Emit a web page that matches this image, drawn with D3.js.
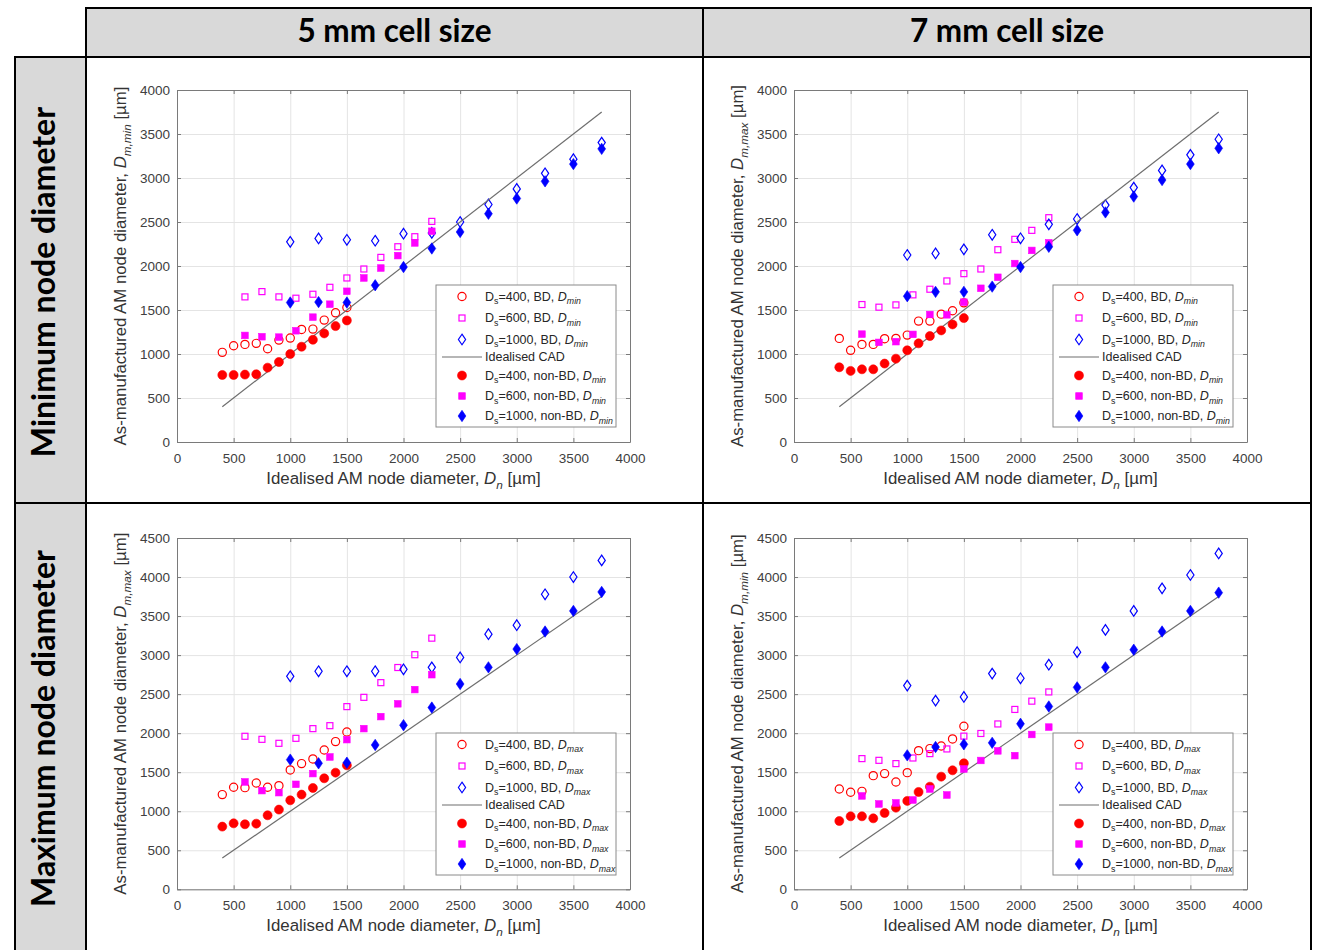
<!DOCTYPE html>
<html>
<head>
<meta charset="utf-8">
<script src="https://cdn.jsdelivr.net/npm/d3@7"></script>
<style>
  body { margin: 0; background: #fff; }
  svg { display: block; }
</style>
</head>
<body>
<svg id="fig" width="1319" height="950"></svg>
<script>
(function() {
  var svg, panels, seriesDefs, tableLeft, colX, rowY;

  // idealised node diameter (um) per strut size
  var ds400X = [400, 500, 600, 700, 800, 900, 1000, 1100, 1200, 1300, 1400, 1500];
  var ds600X = [600, 750, 900, 1050, 1200, 1350, 1500, 1650, 1800, 1950, 2100, 2250];
  var ds1000X = [1000, 1250, 1500, 1750, 2000, 2250, 2500, 2750, 3000, 3250, 3500, 3750];
  var cadX = [400, 3750];
  var cadY = [400, 3750];

  var xTicks = [0, 500, 1000, 1500, 2000, 2500, 3000, 3500, 4000];
  var yTicksTop = [0, 500, 1000, 1500, 2000, 2500, 3000, 3500, 4000];
  var yTicksBottom = [0, 500, 1000, 1500, 2000, 2500, 3000, 3500, 4000, 4500];

  var colHeaders = ["5 mm cell size", "7 mm cell size"];
  var rowHeaders = ["Minimum node diameter", "Maximum node diameter"];

  // 5 mm cell, minimum node diameter
  var min5Bd400 = [1019, 1094, 1109, 1121, 1060, 1158, 1181, 1279, 1283, 1385, 1468, 1528];
  var min5Bd600 = [1649, 1709, 1649, 1634, 1679, 1758, 1864, 1966, 2098, 2219, 2333, 2507];
  var min5Bd1000 = [2275, 2313, 2298, 2287, 2367, 2376, 2500, 2699, 2876, 3053, 3214, 3402];
  var min5Nb400 = [762, 762, 766, 770, 845, 909, 1000, 1083, 1162, 1234, 1317, 1381];
  var min5Nb600 = [1211, 1196, 1192, 1264, 1419, 1566, 1713, 1864, 1977, 2118, 2262, 2395];
  var min5Nb1000 = [1585, 1590, 1585, 1781, 1988, 2199, 2387, 2594, 2767, 2962, 3158, 3331];

  // 7 mm cell, minimum node diameter
  var min7Bd400 = [1177, 1042, 1109, 1109, 1174, 1177, 1215, 1374, 1374, 1453, 1491, 1581];
  var min7Bd600 = [1562, 1532, 1558, 1672, 1736, 1830, 1913, 1966, 2185, 2303, 2405, 2549];
  var min7Bd1000 = [2125, 2143, 2189, 2355, 2315, 2474, 2534, 2692, 2891, 3086, 3263, 3440];
  var min7Nb400 = [849, 808, 826, 826, 891, 947, 1042, 1121, 1204, 1268, 1336, 1408];
  var min7Nb600 = [1226, 1132, 1140, 1223, 1449, 1445, 1589, 1747, 1872, 2028, 2177, 2263];
  var min7Nb1000 = [1657, 1706, 1706, 1766, 1988, 2218, 2406, 2609, 2789, 2977, 3158, 3338];

  // 5 mm cell, maximum node diameter
  var max5Bd400 = [1213, 1307, 1302, 1362, 1307, 1328, 1529, 1610, 1670, 1785, 1892, 2015];
  var max5Bd600 = [1960, 1921, 1870, 1934, 2058, 2096, 2340, 2459, 2647, 2841, 3005, 3217];
  var max5Bd1000 = [2728, 2793, 2793, 2793, 2818, 2843, 2970, 3268, 3383, 3779, 4000, 4213];
  var max5Nb400 = [803, 845, 833, 841, 948, 1021, 1140, 1213, 1298, 1422, 1494, 1588];
  var max5Nb600 = [1375, 1264, 1238, 1345, 1482, 1695, 1917, 2058, 2212, 2376, 2558, 2749];
  var max5Nb1000 = [1661, 1614, 1622, 1849, 2102, 2328, 2630, 2843, 3077, 3302, 3566, 3809];

  // 7 mm cell, maximum node diameter
  var max7Bd400 = [1285, 1243, 1255, 1456, 1482, 1375, 1494, 1776, 1802, 1836, 1926, 2088];
  var max7Bd600 = [1674, 1652, 1610, 1682, 1738, 1798, 1962, 1996, 2118, 2304, 2410, 2528];
  var max7Bd1000 = [2609, 2417, 2464, 2763, 2703, 2877, 3038, 3323, 3566, 3855, 4026, 4302];
  var max7Nb400 = [875, 935, 935, 909, 978, 1046, 1132, 1247, 1315, 1443, 1524, 1614];
  var max7Nb600 = [1196, 1093, 1106, 1144, 1285, 1208, 1541, 1650, 1773, 1712, 1983, 2078];
  var max7Nb1000 = [1716, 1823, 1857, 1876, 2120, 2342, 2587, 2843, 3068, 3302, 3566, 3800];

  seriesDefs = [
    { key: "bd400", x: ds400X, ds: "400", kind: "BD", shape: "circle", filled: false, color: "#ff0000" },
    { key: "bd600", x: ds600X, ds: "600", kind: "BD", shape: "square", filled: false, color: "#ff00ff" },
    { key: "bd1000", x: ds1000X, ds: "1000", kind: "BD", shape: "diamond", filled: false, color: "#0000ff" },
    { key: "cad" },
    { key: "nb400", x: ds400X, ds: "400", kind: "non-BD", shape: "circle", filled: true, color: "#ff0000" },
    { key: "nb600", x: ds600X, ds: "600", kind: "non-BD", shape: "square", filled: true, color: "#ff00ff" },
    { key: "nb1000", x: ds1000X, ds: "1000", kind: "non-BD", shape: "diamond", filled: true, color: "#0000ff" }
  ];

  panels = [
    { left: 177, top: 90, width: 453, height: 352, yTicks: yTicksTop, ySub: "m,min", legSub: "min",
      data: { bd400: min5Bd400, bd600: min5Bd600, bd1000: min5Bd1000, nb400: min5Nb400, nb600: min5Nb600, nb1000: min5Nb1000 } },
    { left: 794, top: 90, width: 453, height: 352, yTicks: yTicksTop, ySub: "m,max", legSub: "min",
      data: { bd400: min7Bd400, bd600: min7Bd600, bd1000: min7Bd1000, nb400: min7Nb400, nb600: min7Nb600, nb1000: min7Nb1000 } },
    { left: 177, top: 538, width: 453, height: 351.3, yTicks: yTicksBottom, ySub: "m,max", legSub: "max",
      data: { bd400: max5Bd400, bd600: max5Bd600, bd1000: max5Bd1000, nb400: max5Nb400, nb600: max5Nb600, nb1000: max5Nb1000 } },
    { left: 794, top: 538, width: 453, height: 351.3, yTicks: yTicksBottom, ySub: "m,min", legSub: "max",
      data: { bd400: max7Bd400, bd600: max7Bd600, bd1000: max7Bd1000, nb400: max7Nb400, nb600: max7Nb600, nb1000: max7Nb1000 } }
  ];

  svg = d3.select("#fig");

  // ---- table frame ----
  tableLeft = 15;
  colX = [86, 703, 1311];
  rowY = [8, 57, 503, 962];

  [0, 1].forEach(function(c) {
    svg.append("rect").attr("x", colX[c]).attr("y", rowY[0])
      .attr("width", colX[c + 1] - colX[c]).attr("height", rowY[1] - rowY[0])
      .style("fill", "#d9d9d9").style("stroke", "#000").style("stroke-width", 2);
  });
  [1, 2].forEach(function(r) {
    svg.append("rect").attr("x", tableLeft).attr("y", rowY[r])
      .attr("width", colX[0] - tableLeft).attr("height", rowY[r + 1] - rowY[r])
      .style("fill", "#d9d9d9").style("stroke", "#000").style("stroke-width", 2);
    [0, 1].forEach(function(c) {
      svg.append("rect").attr("x", colX[c]).attr("y", rowY[r])
        .attr("width", colX[c + 1] - colX[c]).attr("height", rowY[r + 1] - rowY[r])
        .style("fill", "#fff").style("stroke", "#000").style("stroke-width", 2);
    });
  });

  colHeaders.forEach(function(h, c) {
    svg.append("text").attr("x", (colX[c] + colX[c + 1]) / 2).attr("y", 42)
      .attr("text-anchor", "middle")
      .style("font-family", "Lato, 'Open Sans', sans-serif").style("font-weight", "bold")
      .style("font-size", "31.5px").style("fill", "#000").text(h);
  });
  rowHeaders.forEach(function(h, r) {
    var cy = (rowY[r + 1] + Math.min(rowY[r + 2], 950)) / 2 + 2;
    svg.append("text").attr("transform", "translate(55," + cy + ") rotate(-90)")
      .attr("text-anchor", "middle")
      .style("font-family", "Lato, 'Open Sans', sans-serif").style("font-weight", "bold")
      .style("font-size", "32px").style("fill", "#000").text(h);
  });

  // text with TeX-like subscripts / italics
  function rich(text, parts, size) {
    var wasSub = false;
    parts.forEach(function(p) {
      var t = text.append("tspan").text(p[0]);
      var isSub = p[1] === "sub" || p[1] === "itsub";
      if (p[1] === "it" || p[1] === "itsub") t.style("font-style", "italic");
      if (isSub) {
        t.style("font-size", (size * 0.7) + "px");
        if (!wasSub) t.attr("dy", size * 0.3);
      } else if (wasSub) {
        t.attr("dy", -size * 0.3);
      }
      wasSub = isSub;
    });
  }

  function diamondPath(cx, cy, w, h) {
    return "M" + cx + "," + (cy - h) + "L" + (cx + w) + "," + cy + "L" + cx + "," + (cy + h) + "L" + (cx - w) + "," + cy + "Z";
  }

  function drawMarkers(g, s, pts, xf, yf) {
    var sel;
    if (s.shape === "circle") {
      sel = g.selectAll(null).data(pts).enter().append("circle")
        .attr("cx", xf).attr("cy", yf).attr("r", s.filled ? 4.5 : 4.1);
    } else if (s.shape === "square") {
      var sz = s.filled ? 6.6 : 6;
      sel = g.selectAll(null).data(pts).enter().append("rect")
        .attr("x", function(d) { return xf(d) - sz / 2; })
        .attr("y", function(d) { return yf(d) - sz / 2; })
        .attr("width", sz).attr("height", sz);
    } else {
      sel = g.selectAll(null).data(pts).enter().append("path")
        .attr("d", function(d) { return s.filled ? diamondPath(xf(d), yf(d), 3.9, 5.7) : diamondPath(xf(d), yf(d), 3.6, 5.3); });
    }
    sel.style("fill", s.filled ? s.color : "none").style("stroke", s.color)
      .style("stroke-width", s.filled ? 0.6 : 1.2);
  }

  // ---- four scatter plots ----
  panels.forEach(function(p) {
    var x, y, g, yMax, line, leg, legLeft, legTop, legW, legH, rowsY, fmt;
    yMax = p.yTicks[p.yTicks.length - 1];
    x = d3.scaleLinear().domain([0, 4000]).range([0, p.width]);
    y = d3.scaleLinear().domain([0, yMax]).range([p.height, 0]);
    fmt = d3.format("d");

    g = svg.append("g").attr("transform", "translate(" + p.left + "," + p.top + ")");

    // grid
    g.append("g").attr("transform", "translate(0," + p.height + ")")
      .call(d3.axisBottom(x).tickValues(xTicks).tickSize(-p.height).tickFormat(""))
      .call(function(a) { a.select(".domain").remove(); a.selectAll("line").style("stroke", "#e4e4e4"); });
    g.append("g")
      .call(d3.axisLeft(y).tickValues(p.yTicks).tickSize(-p.width).tickFormat(""))
      .call(function(a) { a.select(".domain").remove(); a.selectAll("line").style("stroke", "#e4e4e4"); });

    // axes with inward ticks
    g.append("g").attr("transform", "translate(0," + p.height + ")")
      .call(d3.axisBottom(x).tickValues(xTicks).tickFormat(fmt).tickSizeInner(-4).tickSizeOuter(0).tickPadding(11))
      .call(styleAxis);
    g.append("g")
      .call(d3.axisLeft(y).tickValues(p.yTicks).tickFormat(fmt).tickSizeInner(-4).tickSizeOuter(0).tickPadding(7))
      .call(styleAxis);
    g.append("g")
      .call(d3.axisTop(x).tickValues(xTicks).tickSizeInner(-4).tickSizeOuter(0).tickFormat(""))
      .call(styleAxis);
    g.append("g").attr("transform", "translate(" + p.width + ",0)")
      .call(d3.axisRight(y).tickValues(p.yTicks).tickSizeInner(-4).tickSizeOuter(0).tickFormat(""))
      .call(styleAxis);

    // axis labels
    var xl = g.append("text").attr("x", p.width / 2).attr("y", p.height + 42)
      .attr("text-anchor", "middle")
      .style("font-family", "'Liberation Sans', Arial, sans-serif").style("font-size", "16.9px").style("fill", "#333");
    rich(xl, [["Idealised AM node diameter, ", "n"], ["D", "it"], ["n", "itsub"], [" [\u00b5m]", "n"]], 16.9);

    var yl = g.append("text").attr("transform", "translate(-51," + (p.height / 2) + ") rotate(-90)")
      .attr("text-anchor", "middle")
      .style("font-family", "'Liberation Sans', Arial, sans-serif").style("font-size", "16.8px").style("fill", "#333");
    rich(yl, [["As-manufactured AM node diameter, ", "n"], ["D", "it"], [p.ySub, "itsub"], [" [\u00b5m]", "n"]], 16.8);

    // data
    seriesDefs.forEach(function(s) {
      if (s.key === "cad") {
        line = d3.line().x(function(d) { return x(d[0]); }).y(function(d) { return y(d[1]); });
        g.append("path").datum(d3.zip(cadX, cadY)).attr("d", line)
          .style("fill", "none").style("stroke", "#6e6e6e").style("stroke-width", 1.2);
        return;
      }
      var pts = d3.zip(s.x, p.data[s.key]);
      drawMarkers(g, s, pts, function(d) { return x(d[0]); }, function(d) { return y(d[1]); });
    });

    // legend
    legLeft = 259; legTop = 195; legW = 180; legH = 142;
    rowsY = [11.5, 33, 54.5, 72, 90.5, 111, 131];
    leg = g.append("g").attr("transform", "translate(" + legLeft + "," + legTop + ")");
    leg.append("rect").attr("width", legW).attr("height", legH)
      .style("fill", "#fff").style("stroke", "#8a8a8a").style("stroke-width", 1);
    seriesDefs.forEach(function(s, i) {
      var ry = rowsY[i];
      var t = leg.append("text").attr("x", 49).attr("y", ry + 4)
        .style("font-family", "'Liberation Sans', Arial, sans-serif").style("font-size", "12.5px").style("fill", "#262626");
      if (s.key === "cad") {
        leg.append("line").attr("x1", 6).attr("x2", 46).attr("y1", ry).attr("y2", ry)
          .style("stroke", "#6e6e6e").style("stroke-width", 1.2);
        t.text("Idealised CAD");
        return;
      }
      drawMarkers(leg, s, [[26, ry]], function(d) { return d[0]; }, function(d) { return d[1]; });
      rich(t, [["D", "n"], ["s", "sub"], ["=" + s.ds + ", " + s.kind + ", ", "n"], ["D", "it"], [p.legSub, "itsub"]], 12.5);
    });
  });

  function styleAxis(a) {
    a.attr("font-family", null).attr("font-size", null);
    a.select(".domain").style("stroke", "#7a7a7a");
    a.selectAll(".tick line").style("stroke", "#7a7a7a");
    a.selectAll(".tick text")
      .style("font-family", "'Liberation Sans', Arial, sans-serif")
      .style("font-size", "13.5px").style("fill", "#404040");
  }
})();
</script>
</body>
</html>
